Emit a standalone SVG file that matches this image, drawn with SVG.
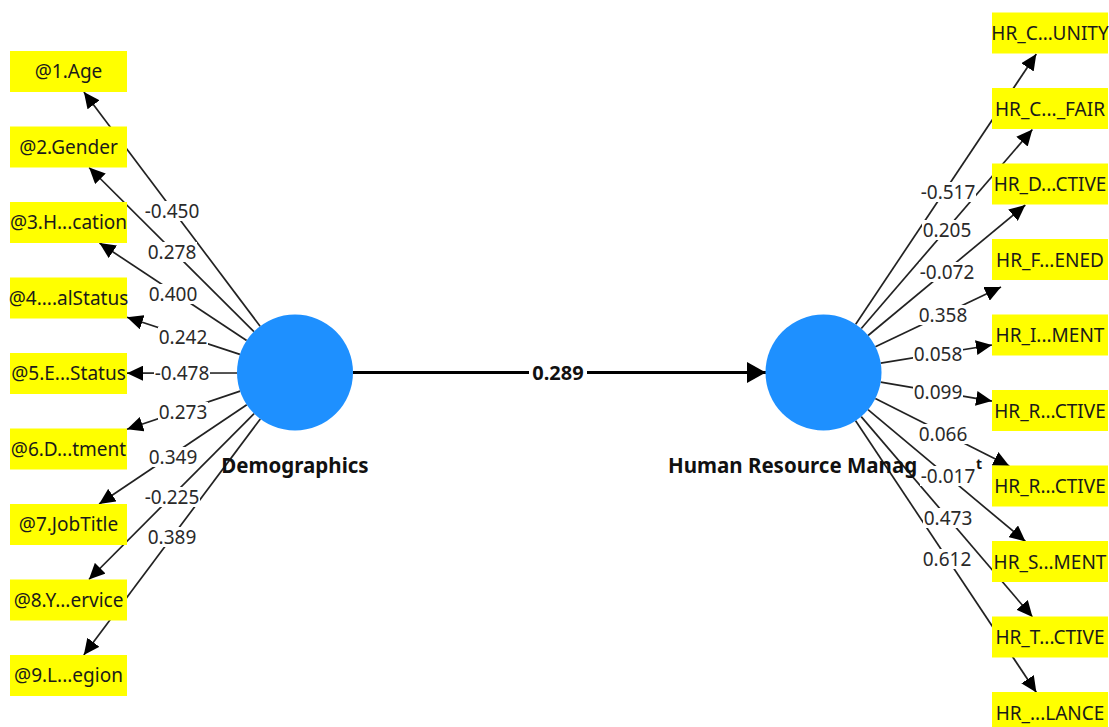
<svg xmlns="http://www.w3.org/2000/svg" width="1109" height="727" viewBox="0 0 1109 727">
<style>
.box{fill:#FFFF00}
.bt{font-family:"Noto Sans","Liberation Sans",sans-serif;font-size:19px;fill:#1a1a1a;text-anchor:middle}
.lv{fill:#1E90FF}
.lt{font-family:"Noto Sans","Liberation Sans",sans-serif;font-size:20.5px;font-weight:bold;fill:#111;text-anchor:middle}
.e{stroke:#222;stroke-width:1.7;fill:none;marker-end:url(#ah)}
.lb{fill:#fff}
.et{font-family:"Noto Sans","Liberation Sans",sans-serif;font-size:19px;fill:#2a2a2a;text-anchor:middle}
</style>
<defs>
<marker id="ah" markerUnits="userSpaceOnUse" viewBox="0 0 16 15" refX="16" refY="7.5" markerWidth="16" markerHeight="15" orient="auto">
<path d="M0,0 L16,7.5 L0,15 z" fill="#000"/>
</marker>
<marker id="ahb" markerUnits="userSpaceOnUse" viewBox="0 0 19 21" refX="19" refY="10.5" markerWidth="19" markerHeight="21" orient="auto">
<path d="M0,0 L19,10.5 L0,21 z" fill="#000"/>
</marker>
</defs>
<rect width="1109" height="727" fill="#fff"/>

<g id="connectors">
<line class="e" x1="260.1" y1="326.2" x2="83.9" y2="92"/>
<line class="e" x1="253.9" y1="331.6" x2="89.1" y2="167.5"/>
<line class="e" x1="246.6" y1="340.5" x2="99.5" y2="243"/>
<line class="e" x1="239.9" y1="354.4" x2="127" y2="317.2"/>
<line class="e" x1="237" y1="373" x2="127" y2="373.2"/>
<line class="e" x1="240.1" y1="391.1" x2="127" y2="429.2"/>
<line class="e" x1="246.8" y1="404.8" x2="99.1" y2="504"/>
<line class="e" x1="254.1" y1="413.6" x2="88.9" y2="579.5"/>
<line class="e" x1="260.3" y1="419" x2="83.8" y2="655"/>

<line class="e" x1="855.7" y1="324.3" x2="1036.3" y2="54"/>
<line class="e" x1="861.3" y1="328.5" x2="1032.4" y2="129.5"/>
<line class="e" x1="868.1" y1="335.5" x2="1025.3" y2="205"/>
<line class="e" x1="875.4" y1="346.7" x2="1001" y2="287"/>
<line class="e" x1="880.7" y1="363.2" x2="992" y2="345"/>
<line class="e" x1="880.7" y1="382.2" x2="992" y2="401.1"/>
<line class="e" x1="875.3" y1="398.6" x2="1009.3" y2="466"/>
<line class="e" x1="868" y1="409.7" x2="1025.5" y2="541.5"/>
<line class="e" x1="861.2" y1="416.6" x2="1032.5" y2="617"/>
<line class="e" x1="855.6" y1="420.8" x2="1036.4" y2="692.5"/>

<line x1="353" y1="372.5" x2="766" y2="372.5" stroke="#000" stroke-width="3" marker-end="url(#ahb)"/>
</g>

<g id="Demographics">
<circle class="lv" cx="295" cy="372.5" r="58"/>
<text class="lt" x="295" y="473">Demographics</text>
</g>
<g id="HRM">
<circle class="lv" cx="823.5" cy="372.5" r="58"/>
<text class="lt" x="668" y="473" style="text-anchor:start">Human Resource Manag</text>
<text class="lt" x="976" y="469" style="text-anchor:start;font-size:14px">t</text>
</g>

<g id="age"><rect class="box" x="10" y="51" width="117" height="41"/><text class="bt" x="68.5" y="78">@1.Age</text></g>
<g id="gender"><rect class="box" x="10" y="126.5" width="117" height="41"/><text class="bt" x="68.5" y="153.5">@2.Gender</text></g>
<g id="education"><rect class="box" x="10" y="202" width="117" height="41"/><text class="bt" x="68.5" y="229">@3.H...cation</text></g>
<g id="marital"><rect class="box" x="10" y="277.5" width="117" height="41"/><text class="bt" x="68.5" y="304.5">@4....alStatus</text></g>
<g id="employment"><rect class="box" x="10" y="353" width="117" height="41"/><text class="bt" x="68.5" y="380">@5.E...Status</text></g>
<g id="department"><rect class="box" x="10" y="428.5" width="117" height="41"/><text class="bt" x="68.5" y="455.5">@6.D...tment</text></g>
<g id="jobtitle"><rect class="box" x="10" y="504" width="117" height="41"/><text class="bt" x="68.5" y="531">@7.JobTitle</text></g>
<g id="service"><rect class="box" x="10" y="579.5" width="117" height="41"/><text class="bt" x="68.5" y="606.5">@8.Y...ervice</text></g>
<g id="region"><rect class="box" x="10" y="655" width="117" height="41"/><text class="bt" x="68.5" y="682">@9.L...egion</text></g>

<g id="hr1"><rect class="box" x="992" y="12.5" width="116" height="41"/><text class="bt" x="1050" y="40">HR_C...UNITY</text></g>
<g id="hr2"><rect class="box" x="992" y="88" width="116" height="41"/><text class="bt" x="1050" y="115.5">HR_C..._FAIR</text></g>
<g id="hr3"><rect class="box" x="992" y="163.5" width="116" height="41"/><text class="bt" x="1050" y="191">HR_D...CTIVE</text></g>
<g id="hr4"><rect class="box" x="992" y="239" width="116" height="41"/><text class="bt" x="1050" y="266.5">HR_F...ENED</text></g>
<g id="hr5"><rect class="box" x="992" y="314.5" width="116" height="41"/><text class="bt" x="1050" y="342">HR_I...MENT</text></g>
<g id="hr6"><rect class="box" x="992" y="390" width="116" height="41"/><text class="bt" x="1050" y="417.5">HR_R...CTIVE</text></g>
<g id="hr7"><rect class="box" x="992" y="465.5" width="116" height="41"/><text class="bt" x="1050" y="493">HR_R...CTIVE</text></g>
<g id="hr8"><rect class="box" x="992" y="541" width="116" height="41"/><text class="bt" x="1050" y="568.5">HR_S...MENT</text></g>
<g id="hr9"><rect class="box" x="992" y="616.5" width="116" height="41"/><text class="bt" x="1050" y="644">HR_T...CTIVE</text></g>
<g id="hr10"><rect class="box" x="992" y="692" width="116" height="41"/><text class="bt" x="1050" y="719.5">HR_...LANCE</text></g>

<g id="edge-labels">
<rect class="lb" x="145" y="201" width="56" height="20"/><text class="et" x="172" y="218">-0.450</text>
<rect class="lb" x="147" y="242" width="50" height="20"/><text class="et" x="172" y="259">0.278</text>
<rect class="lb" x="148" y="284" width="50" height="20"/><text class="et" x="173" y="301">0.400</text>
<rect class="lb" x="158" y="327" width="50" height="20"/><text class="et" x="183" y="344">0.242</text>
<rect class="lb" x="154" y="363" width="56" height="20"/><text class="et" x="182" y="380">-0.478</text>
<rect class="lb" x="158" y="402" width="50" height="20"/><text class="et" x="183" y="419">0.273</text>
<rect class="lb" x="148" y="447" width="50" height="20"/><text class="et" x="173" y="464">0.349</text>
<rect class="lb" x="144" y="487" width="56" height="20"/><text class="et" x="172" y="504">-0.225</text>
<rect class="lb" x="147" y="527" width="50" height="20"/><text class="et" x="172" y="544">0.389</text>

<rect class="lb" x="920" y="182" width="56" height="20"/><text class="et" x="948" y="199">-0.517</text>
<rect class="lb" x="922" y="220" width="50" height="20"/><text class="et" x="947" y="237">0.205</text>
<rect class="lb" x="919" y="262" width="56" height="20"/><text class="et" x="947" y="279">-0.072</text>
<rect class="lb" x="918" y="305" width="50" height="20"/><text class="et" x="943" y="322">0.358</text>
<rect class="lb" x="913" y="344" width="50" height="20"/><text class="et" x="938" y="361">0.058</text>
<rect class="lb" x="913" y="382" width="50" height="20"/><text class="et" x="938" y="399">0.099</text>
<rect class="lb" x="918" y="424" width="50" height="20"/><text class="et" x="943" y="441">0.066</text>
<rect class="lb" x="920" y="466" width="56" height="20"/><text class="et" x="948" y="483">-0.017</text>
<rect class="lb" x="923" y="508" width="50" height="20"/><text class="et" x="948" y="525">0.473</text>
<rect class="lb" x="922" y="549" width="50" height="20"/><text class="et" x="947" y="566">0.612</text>

<rect class="lb" x="529" y="362" width="58" height="22"/><text class="lt" x="558" y="380" style="font-size:20px">0.289</text>
</g>
</svg>
